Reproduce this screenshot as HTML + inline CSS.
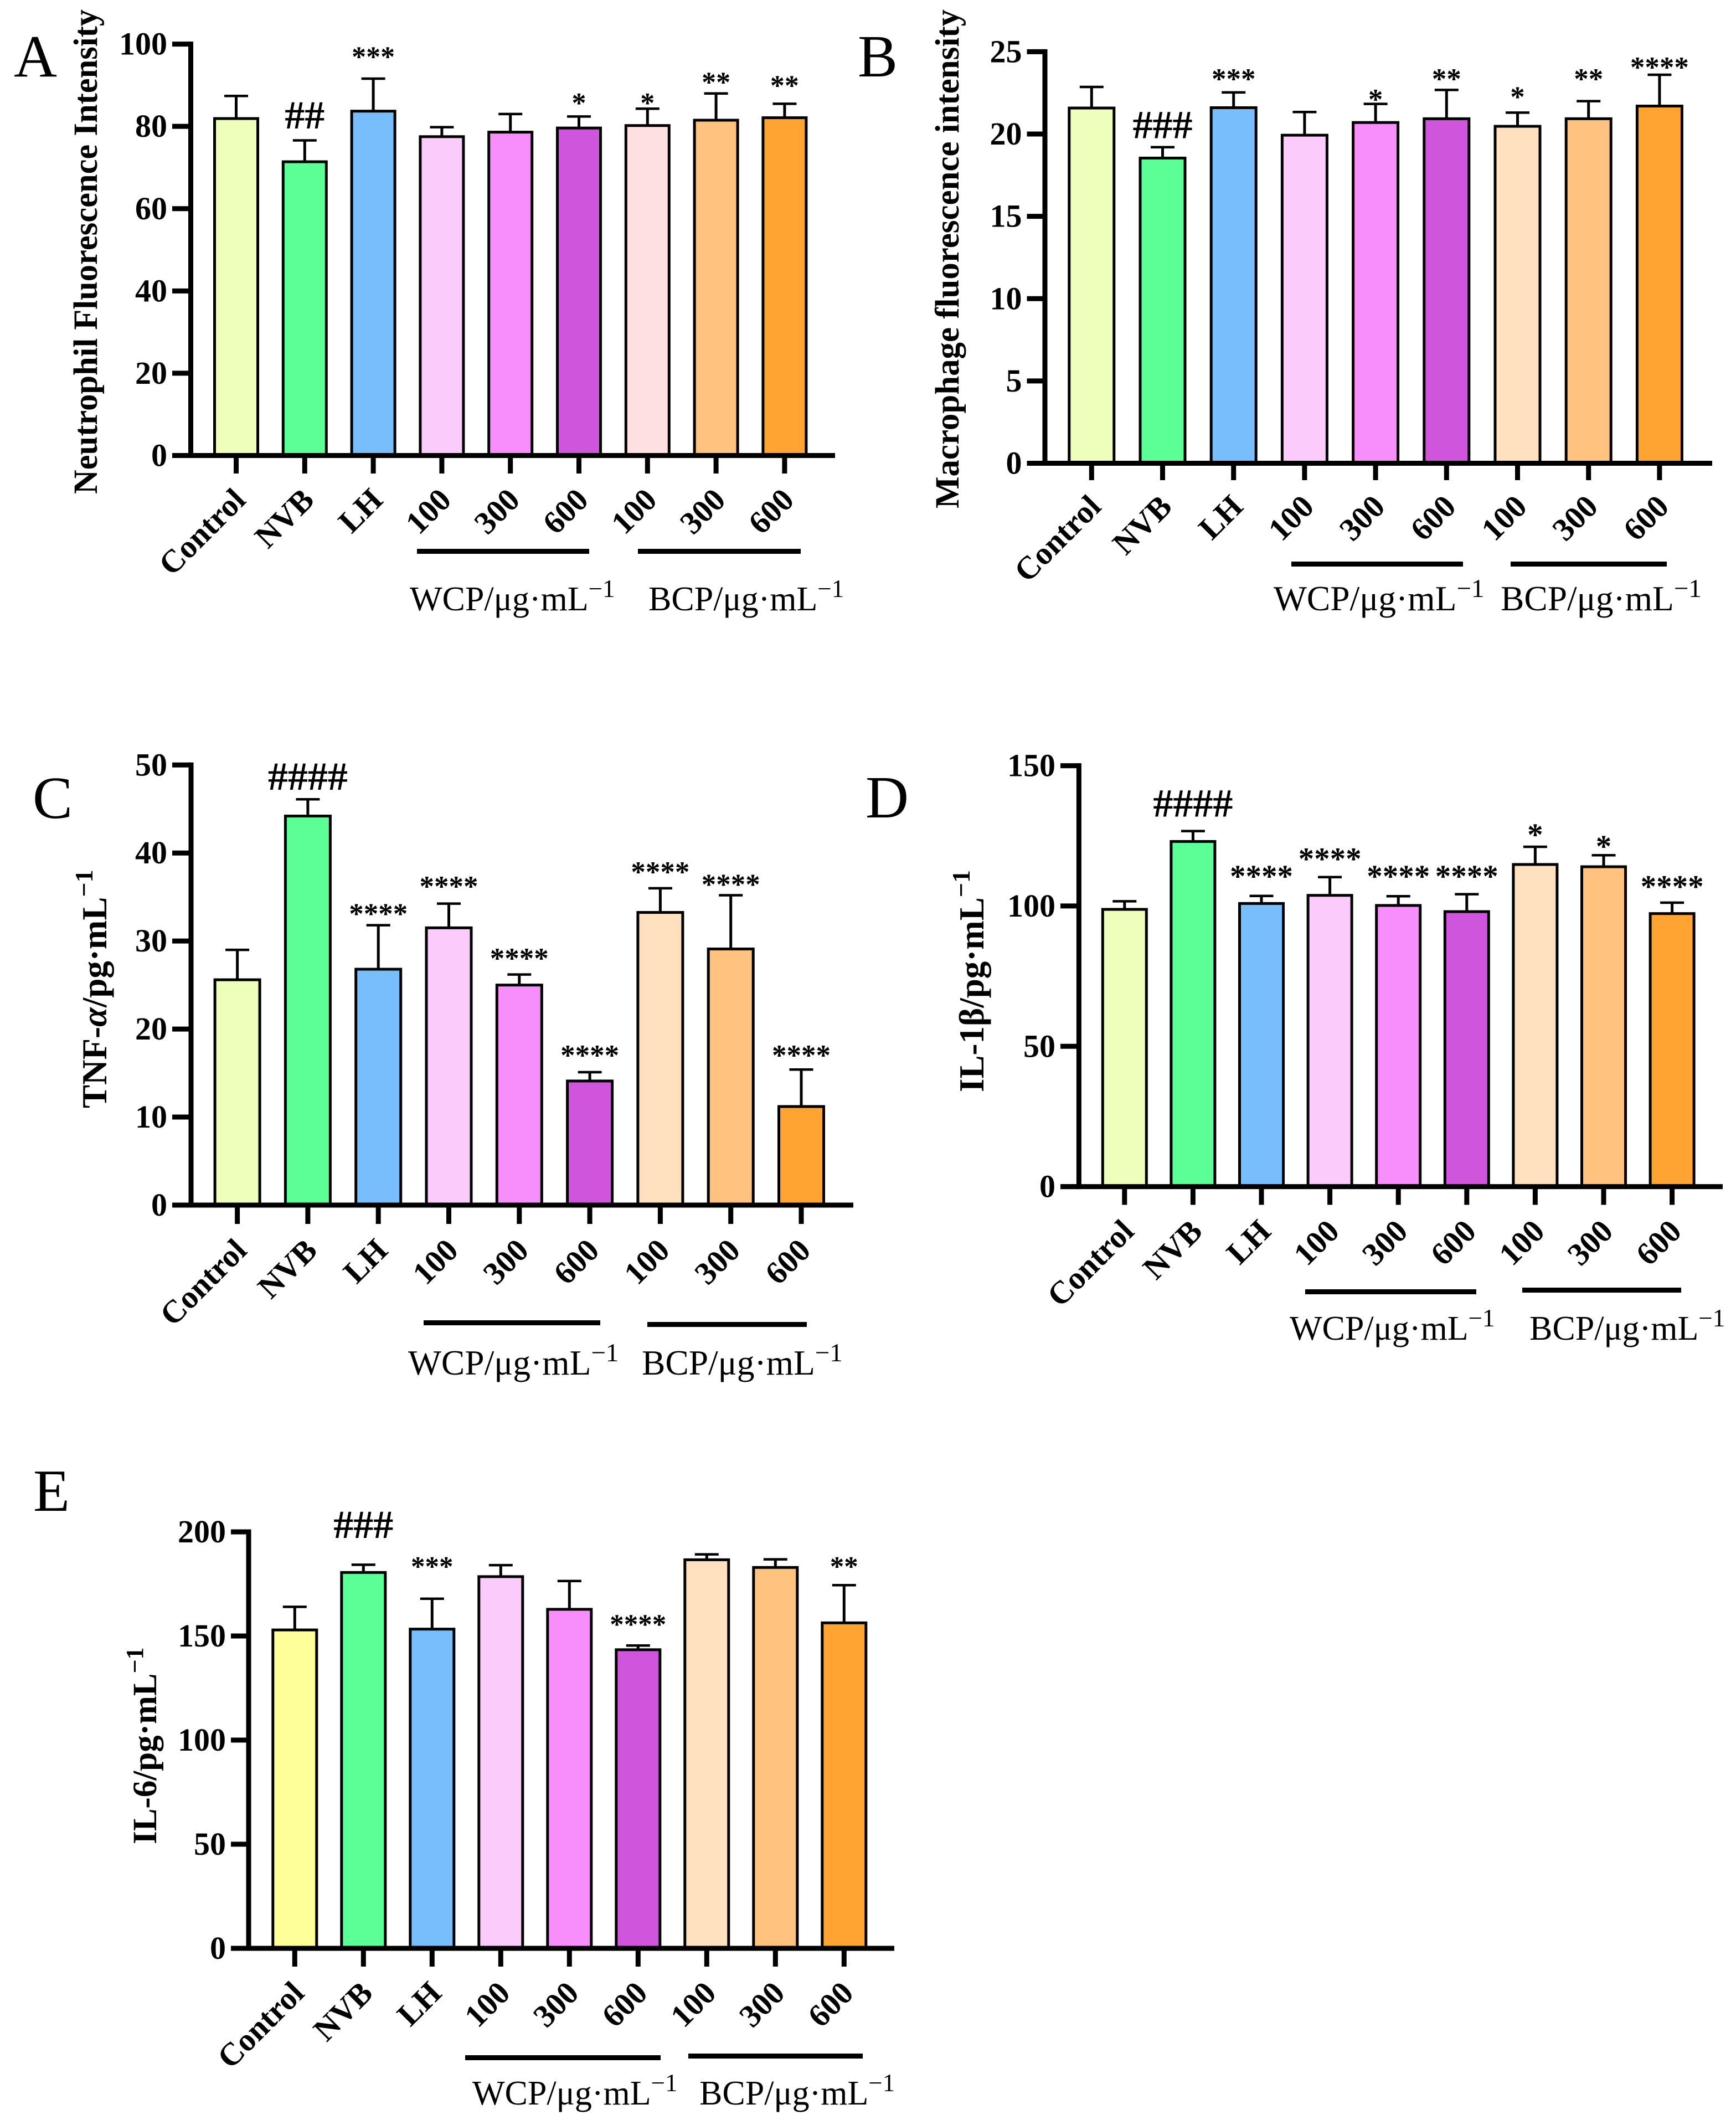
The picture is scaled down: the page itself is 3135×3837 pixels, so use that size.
<!DOCTYPE html>
<html lang="en">
<head>
<meta charset="utf-8">
<title>Fluorescence intensity and cytokine bar charts</title>
<style>
html,body{margin:0;padding:0;background:#fff;}
svg{display:block;}
text{font-family:"Liberation Serif","DejaVu Serif",serif;fill:#000;}
.tick{font-weight:700;font-size:58px;}
.ytitle{font-weight:700;font-size:61px;}
.ytitle-large{font-weight:700;font-size:63px;}
.letter{font-size:108px;}
.group{font-size:62px;}
.group-wide{font-size:63.5px;}
.note{font-size:52px;font-weight:700;}
.hash{font-size:72px;font-weight:700;}
</style>
</head>
<body>
<svg id="figure" xmlns="http://www.w3.org/2000/svg" width="3135" height="3837" viewBox="0 0 3135 3837">
<rect x="0" y="0" width="3135" height="3837" fill="#fff"/>

<g id="panel-a">
<text class="letter" x="25" y="138">A</text>
<text class="ytitle" transform="translate(175,892) rotate(-90)" textLength="875" lengthAdjust="spacingAndGlyphs">Neutrophil Fluorescence Intensity</text>
<rect x="753" y="991" width="311" height="9"/>
<rect x="1152" y="991" width="294" height="9"/>
<text class="group" x="740" y="1102">WCP/μg·mL<tspan font-size="45" dy="-24">−1</tspan></text>
<text class="group" x="1171" y="1102">BCP/μg·mL<tspan font-size="45" dy="-24">−1</tspan></text>
</g>

<g id="panel-b">
<text class="letter" x="1549" y="138">B</text>
<text class="ytitle" transform="translate(1731,918) rotate(-90)" textLength="901" lengthAdjust="spacingAndGlyphs">Macrophage fluorescence intensity</text>
<rect x="2332" y="1014" width="310" height="9"/>
<rect x="2728" y="1014" width="282" height="9"/>
<text class="group-wide" x="2300" y="1102">WCP/μg·mL<tspan font-size="47" dy="-24">−1</tspan></text>
<text class="group-wide" x="2710" y="1102">BCP/μg·mL<tspan font-size="47" dy="-24">−1</tspan></text>
</g>

<g id="panel-c">
<text class="letter" x="59" y="1477">C</text>
<text class="ytitle-large" transform="translate(192,2001) rotate(-90)">TNF-<tspan font-style="italic">α</tspan>/pg·mL<tspan font-size="46" dy="-25">−1</tspan></text>
<rect x="765" y="2384" width="319" height="9"/>
<rect x="1169" y="2387" width="288" height="9"/>
<text class="group-wide" x="737" y="2482">WCP/μg·mL<tspan font-size="47" dy="-24">−1</tspan></text>
<text class="group-wide" x="1159" y="2482">BCP/μg·mL<tspan font-size="47" dy="-24">−1</tspan></text>
</g>

<g id="panel-d">
<text class="letter" x="1563" y="1476">D</text>
<text class="ytitle-large" transform="translate(1776,1972) rotate(-90)">IL-1β/pg·mL<tspan font-size="46" dy="-25">−1</tspan></text>
<rect x="2357" y="2328" width="309" height="9"/>
<rect x="2749" y="2325" width="287" height="9"/>
<text class="group" x="2329" y="2419">WCP/μg·mL<tspan font-size="45" dy="-24">−1</tspan></text>
<text class="group" x="2762" y="2419">BCP/μg·mL<tspan font-size="45" dy="-24">−1</tspan></text>
</g>

<g id="panel-e">
<text class="letter" x="60" y="2728">E</text>
<text class="ytitle" transform="translate(282,3330) rotate(-90)">IL-6/pg·mL<tspan font-size="44" dy="-24">−1</tspan></text>
<rect x="840" y="3711" width="353" height="9"/>
<rect x="1243" y="3708" width="315" height="9"/>
<text class="group" x="853" y="3800">WCP/μg·mL<tspan font-size="45" dy="-24">−1</tspan></text>
<text class="group" x="1263" y="3800">BCP/μg·mL<tspan font-size="45" dy="-24">−1</tspan></text>
</g>
</svg>

<script>
// Shared categories
const categories = ["Control", "NVB", "LH", "100", "300", "600", "100", "300", "600"];

// Panel A data
const valuesA = [81.9, 71.4, 83.7, 77.5, 78.6, 79.6, 80.2, 81.5, 82.1];
const errorTopsA = [87.4, 76.6, 91.6, 79.8, 83.0, 82.4, 84.3, 88.0, 85.5];
const ticksA = [0, 20, 40, 60, 80, 100];
const notesA = ["", "##", "***", "", "", "*", "*", "**", "**"];
const noteLevelsA = [0, 82.7, 97.9, 0, 0, 86.7, 86.7, 91.7, 90.9];
const colorsA = ["#EEFFBB", "#5CFF96", "#78BEFC", "#FACBFB", "#F78EFB", "#D055DD", "#FFE0E0", "#FFC27F", "#FFA333"];

// Panel B data
const valuesB = [21.58, 18.54, 21.6, 19.93, 20.7, 20.93, 20.47, 20.93, 21.7];
const errorTopsB = [22.86, 19.2, 22.53, 21.34, 21.83, 22.68, 21.3, 22.0, 23.6];
const ticksB = [0, 5, 10, 15, 20, 25];
const notesB = ["", "###", "***", "", "*", "**", "*", "**", "****"];
const noteLevelsB = [0, 20.55, 23.6, 0, 22.35, 23.6, 22.5, 23.6, 24.3];
const colorsB = ["#EEFFBB", "#5CFF96", "#78BEFC", "#FACBFB", "#F78EFB", "#D055DD", "#FFE0BF", "#FFC27F", "#FFA333"];

// Panel C data
const valuesC = [25.6, 44.2, 26.8, 31.5, 25.0, 14.1, 33.25, 29.1, 11.2];
const errorTopsC = [29.0, 46.1, 31.8, 34.25, 26.2, 15.1, 36.0, 35.2, 15.4];
const ticksC = [0, 10, 20, 30, 40, 50];
const notesC = ["", "####", "****", "****", "****", "****", "****", "****", "****"];
const noteLevelsC = [0, 48.7, 33.55, 36.66, 28.5, 17.5, 38.3, 36.9, 17.5];
const colorsC = colorsB;

// Panel D data
const valuesD = [98.8, 123, 100.9, 103.8, 100.2, 98, 114.8, 114, 97.3];
const errorTopsD = [101.7, 126.7, 103.6, 110.3, 103.5, 104.2, 121.1, 118.1, 101.2];
const ticksD = [0, 50, 100, 150];
const notesD = ["", "####", "****", "****", "****", "****", "*", "*", "****"];
const noteLevelsD = [0, 136.6, 112.2, 118.4, 112.2, 112.2, 127, 122.8, 108.5];
const colorsD = colorsB;

// Panel E data
const valuesE = [152.9, 180.5, 153.3, 178.5, 162.8, 143.4, 186.6, 182.9, 156.3];
const errorTopsE = [164, 184.2, 167.9, 184, 176.4, 145.4, 189.2, 186.8, 174.4];
const ticksE = [0, 50, 100, 150, 200];
const notesE = ["", "###", "***", "", "", "****", "", "", "**"];
const noteLevelsE = [0, 203.5, 185.2, 0, 0, 157.4, 0, 0, 185.2];
const colorsE = ["#FFFF99", "#5CFF96", "#78BEFC", "#FACBFB", "#F78EFB", "#D055DD", "#FFE0BF", "#FFC27F", "#FFA333"];

const SVG_NS = "http://www.w3.org/2000/svg";

function make(tag, attrs, parent) {
  const node = document.createElementNS(SVG_NS, tag);
  for (const key in attrs) node.setAttribute(key, attrs[key]);
  parent.appendChild(node);
  return node;
}

function drawPanel(panelId, frame, values, errorTops, ticks, notes, noteLevels, colors) {
  const root = document.getElementById(panelId);
  const maxTick = ticks[ticks.length - 1];
  const yScale = function (v) { return frame.y0 - (v / maxTick) * (frame.y0 - frame.yTop); };
  const xScale = function (i) { return frame.x0 + frame.step * i; };

  // error bars sit behind bars
  values.forEach(function (v, i) {
    const cx = xScale(i);
    let el = make("line", {x1: cx, x2: cx, y1: yScale(v), y2: yScale(errorTops[i]), stroke: "#000", "stroke-width": 5}, root);
    
    
    el = make("line", {x1: cx - 21.5, x2: cx + 21.5, y1: yScale(errorTops[i]), y2: yScale(errorTops[i]), stroke: "#000", "stroke-width": 4.5}, root);
    
    
  });

  // bars
  values.forEach(function (v, i) {
    const el = make("rect", {x: xScale(i) - frame.barW / 2, y: yScale(v), width: frame.barW, height: yScale(0) - yScale(v), fill: colors[i], stroke: "#000", "stroke-width": 5}, root);
    
    
  });

  // significance marks
  notes.forEach(function (note, i) {
    if (!note) return;
    const isHash = note.charAt(0) === "#";
    const el = make("text", {x: xScale(i), y: yScale(noteLevels[i]) + (isHash ? 24 : frame.noteFont * 0.47), "text-anchor": "middle", class: isHash ? "hash" : "note", style: isHash ? "" : "font-size:" + frame.noteFont + "px"}, root);
    
    
    el.textContent = note;
  });

  // y axis line
  let axis = make("line", {x1: frame.axisX, x2: frame.axisX, y1: frame.yTop - 4.5, y2: frame.y0 + 4.5, stroke: "#000", "stroke-width": 9}, root);
  
  

  // x axis line
  axis = make("line", {x1: frame.tickLeft, x2: frame.right, y1: frame.y0, y2: frame.y0, stroke: "#000", "stroke-width": 9}, root);
  
  

  // y ticks and labels
  ticks.forEach(function (t) {
    const y = yScale(t);
    let el = make("line", {x1: frame.tickLeft, x2: frame.axisX, y1: y, y2: y, stroke: "#000", "stroke-width": 9}, root);
    
    
    el = make("text", {x: frame.tickLeft - 9, y: y + 19, "text-anchor": "end", class: "tick"}, root);
    
    
    el.textContent = t;
  });

  // x ticks and labels
  categories.forEach(function (c, i) {
    const cx = xScale(i);
    let el = make("line", {x1: cx, x2: cx, y1: frame.y0, y2: frame.tickBottom, stroke: "#000", "stroke-width": 9}, root);
    
    
    el = make("text", {transform: "translate(" + (cx + 20) + "," + (frame.tickBottom + 51) + ") rotate(-45)", "text-anchor": "end", class: "tick"}, root);
    
    
    el.textContent = c;
  });
}

drawPanel("panel-a", {axisX: 344.5, tickLeft: 311, right: 1508, yTop: 79.6, y0: 822.5, tickBottom: 855, x0: 426.5, step: 123.8, barW: 78, noteFont: 52}, valuesA, errorTopsA, ticksA, notesA, noteLevelsA, colorsA);
drawPanel("panel-b", {axisX: 1887, tickLeft: 1854.5, right: 3092, yTop: 93.4, y0: 836.5, tickBottom: 867, x0: 1971.3, step: 128.2, barW: 81, noteFont: 53}, valuesB, errorTopsB, ticksB, notesB, noteLevelsB, colorsB);
drawPanel("panel-c", {axisX: 345, tickLeft: 311, right: 1541, yTop: 1381.3, y0: 2176, tickBottom: 2210, x0: 428.6, step: 127.3, barW: 81, noteFont: 53}, valuesC, errorTopsC, ticksC, notesC, noteLevelsC, colorsC);
drawPanel("panel-d", {axisX: 1948.4, tickLeft: 1915, right: 3111, yTop: 1382.6, y0: 2142.6, tickBottom: 2175.5, x0: 2030.8, step: 123.6, barW: 79, noteFont: 57}, valuesD, errorTopsD, ticksD, notesD, noteLevelsD, colorsD);
drawPanel("panel-e", {axisX: 449, tickLeft: 417, right: 1615, yTop: 2766, y0: 3518, tickBottom: 3551, x0: 532.3, step: 124, barW: 79, noteFont: 51}, valuesE, errorTopsE, ticksE, notesE, noteLevelsE, colorsE);
</script>
</body>
</html>
